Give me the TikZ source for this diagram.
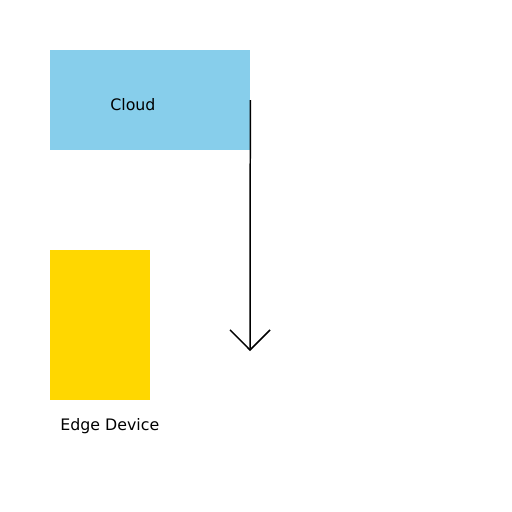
\documentclass[tikz,border=0pt]{standalone}
\usepackage{fontspec}
\setmainfont{DejaVu Sans}
\usetikzlibrary{arrows.meta}
\definecolor{skyblue}{HTML}{87CEEB}
\definecolor{gold}{HTML}{FFD700}
\begin{document}
\begin{tikzpicture}[x=0.02cm,y=-0.02cm,every node/.style={inner sep=0pt,font=\fontsize{9}{11}\selectfont}]
\useasboundingbox (0,0) rectangle (512,512);

%%% BOXES %%%
\node [fill=skyblue,minimum width=4cm,minimum height=2cm] at (150,100) (cloud) {};
\node [fill=gold,minimum width=2cm,minimum height=3cm] at (100,325) (edge) {};

%%% LABELS %%%
\node [anchor=base west] at (110,110) (cloud_label) {Cloud};
\node [anchor=base west] at (60,430) (edge_label) {Edge Device};

%%% ARROW %%%
\coordinate (tip) at (250,351);
\draw [line width=0.85pt,-{Straight Barb[length=0.4cm,width=0.8cm,line width=0.85pt]}] (cloud.east) -- (tip);
\end{tikzpicture}
\end{document}
